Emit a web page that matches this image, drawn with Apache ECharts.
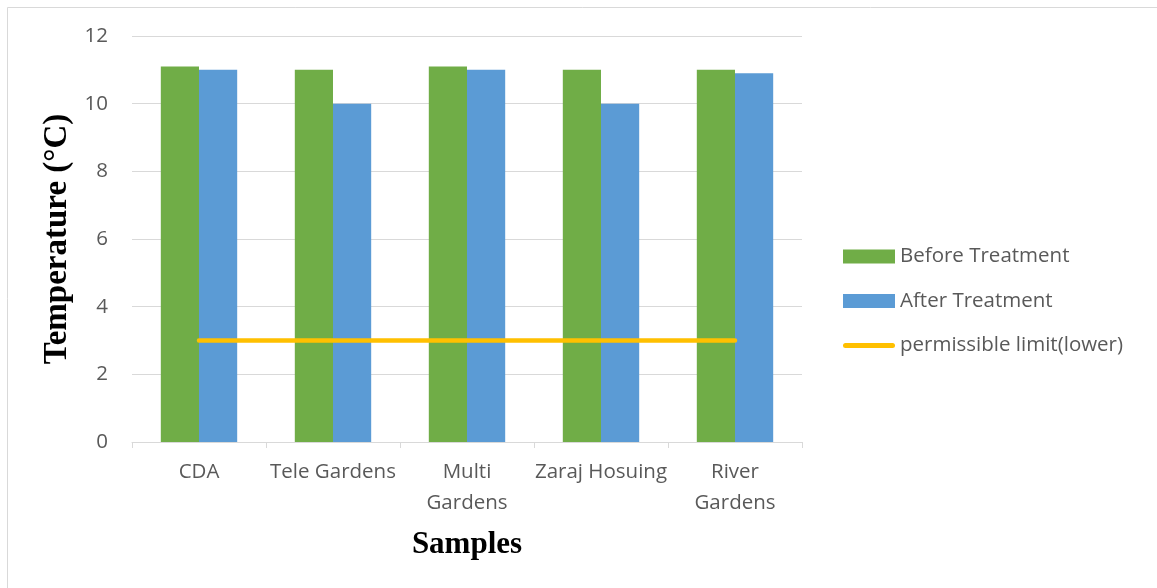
<!DOCTYPE html>
<html>
<head>
<meta charset="utf-8">
<script src="https://cdn.jsdelivr.net/npm/echarts@6/dist/echarts.min.js"></script>
<style>
  html, body { margin: 0; padding: 0; background: #fff; }
  #chart { width: 1157px; height: 588px; }
</style>
</head>
<body>
<div id="chart"></div>
<script>
// Sample sites and measured temperatures (°C)
const categories = ['CDA', 'Tele Gardens', 'Multi\nGardens', 'Zaraj Hosuing', 'River\nGardens'];
const beforeTreatment = [11.1, 11, 11.1, 11, 11];
const afterTreatment = [11, 10, 11, 10, 10.9];
const permissibleLower = [3, 3, 3, 3, 3];
const yTicks = { min: 0, max: 12, interval: 2 };

const labelFont = '"Open Sans", "Noto Sans", sans-serif';
const titleFont = '"Liberation Serif", "DejaVu Serif", serif';

// short bar with rounded ends, used as the legend key of the limit line
const limitIcon = 'path://M2.5,0 L49.5,0 A2.5,2.5 0 0 1 49.5,5 L2.5,5 A2.5,2.5 0 0 1 2.5,0 Z';

const chart = echarts.init(document.getElementById('chart'), null, { renderer: 'canvas' });

chart.setOption({
  backgroundColor: '#ffffff',
  animation: false,
  graphic: [{
    type: 'rect',
    silent: true,
    shape: { x: 7.5, y: 7.5, width: 1400, height: 800 },
    style: { fill: 'none', stroke: '#d9d9d9', lineWidth: 1 }
  }],
  grid: { left: 132, right: 355, top: 36, bottom: 146 },
  legend: {
    orient: 'vertical',
    left: 843,
    top: 246,
    padding: 0,
    itemWidth: 52,
    itemHeight: 14,
    itemGap: 23.5,
    textStyle: { fontFamily: labelFont, fontSize: 20.5, color: '#595959' },
    data: [
      { name: 'Before Treatment', icon: 'rect' },
      { name: 'After Treatment', icon: 'rect' },
      { name: 'permissible limit(lower)', icon: limitIcon, itemStyle: { color: '#FFC000' } }
    ]
  },
  xAxis: {
    type: 'category',
    data: categories,
    boundaryGap: true,
    axisLine: { show: true, lineStyle: { color: '#d9d9d9', width: 1 } },
    axisTick: { show: true, length: 6, lineStyle: { color: '#d9d9d9' } },
    axisLabel: {
      interval: 0,
      fontFamily: labelFont,
      fontSize: 20.5,
      lineHeight: 31,
      color: '#595959',
      margin: 15
    },
    name: 'Samples',
    nameLocation: 'middle',
    nameGap: 87,
    nameTextStyle: { fontFamily: titleFont, fontSize: 31, fontWeight: 'bold', color: '#000' }
  },
  yAxis: {
    type: 'value',
    min: yTicks.min,
    max: yTicks.max,
    interval: yTicks.interval,
    axisLine: { show: false },
    axisTick: { show: false },
    splitLine: { show: true, lineStyle: { color: '#d9d9d9', width: 1 } },
    axisLabel: { fontFamily: labelFont, fontSize: 20.5, color: '#595959', margin: 24 },
    name: 'Temperature (°C)',
    nameLocation: 'middle',
    nameGap: 47,
    nameTextStyle: { fontFamily: titleFont, fontSize: 33, fontWeight: 'bold', color: '#000' }
  },
  series: [
    {
      name: 'Before Treatment',
      type: 'bar',
      data: beforeTreatment,
      barGap: '0%',
      barCategoryGap: '43%',
      itemStyle: { color: '#70AD47' }
    },
    {
      name: 'After Treatment',
      type: 'bar',
      data: afterTreatment,
      barGap: '0%',
      barCategoryGap: '43%',
      itemStyle: { color: '#5B9BD5' }
    },
    {
      name: 'permissible limit(lower)',
      type: 'line',
      data: permissibleLower,
      symbol: 'none',
      showSymbol: false,
      lineStyle: { color: '#FFC000', width: 4.5, cap: 'round' },
      itemStyle: { color: '#FFC000' },
      z: 5
    }
  ]
});
</script>
</body>
</html>
